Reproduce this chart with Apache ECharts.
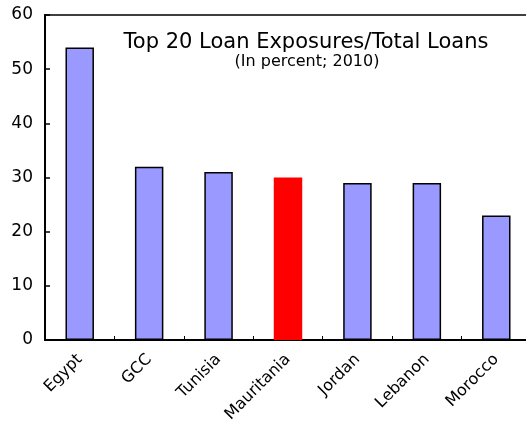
<!DOCTYPE html>
<html>
<head>
<meta charset="utf-8">
<script src="https://cdn.jsdelivr.net/npm/echarts@6/dist/echarts.min.js"></script>
<style>
  html, body { margin: 0; padding: 0; background: #fff; }
  #chart { width: 526px; height: 421px; }
</style>
</head>
<body>
<div id="chart"></div>
<script>
const categories = ['Egypt', 'GCC', 'Tunisia', 'Mauritania', 'Jordan', 'Lebanon', 'Morocco'];
const values = [54, 32, 31, 30, 29, 29, 23];
const highlighted = 'Mauritania';
const yTicks = [0, 10, 20, 30, 40, 50, 60];
const titleText = 'Top 20 Loan Exposures/Total Loans';
const subtitleText = '(In percent; 2010)';

const FONT = '"DejaVu Sans", "Liberation Sans", Arial, sans-serif';

const chart = echarts.init(document.getElementById('chart'), null, { renderer: 'canvas' });

const data = values.map((v, i) => {
  const isHi = categories[i] === highlighted;
  return {
    value: v,
    itemStyle: isHi
      ? { color: '#FF0000', borderWidth: 0 }
      : { color: '#9999FF', borderColor: '#000', borderWidth: 1.5 }
  };
});

chart.setOption({
  animation: false,
  backgroundColor: '#fff',
  graphic: [
    {
      type: 'text', x: 306, y: 32, z: 10,
      style: { text: titleText, textAlign: 'center', textVerticalAlign: 'top',
               font: '21px ' + FONT, fill: '#000' }
    },
    {
      type: 'text', x: 307, y: 54, z: 10,
      style: { text: subtitleText, textAlign: 'center', textVerticalAlign: 'top',
               font: '16px ' + FONT, fill: '#000' }
    }
  ],
  grid: {
    left: 45, top: 15, right: -5, bottom: 81,
    show: true, borderColor: '#000', borderWidth: 1.5,
    containLabel: false,
    outerBoundsMode: 'none'
  },
  xAxis: {
    type: 'category',
    data: categories,
    axisLine: { lineStyle: { color: '#000', width: 2 } },
    axisTick: { show: true, inside: true, length: 4, alignWithLabel: false, lineStyle: { color: '#000', width: 1 } },
    axisLabel: {
      rotate: 45, interval: 0, margin: 17,
      fontFamily: FONT, fontSize: 16, color: '#000'
    }
  },
  yAxis: {
    type: 'value',
    min: yTicks[0], max: yTicks[yTicks.length - 1], interval: 10,
    splitLine: { show: false },
    axisLine: { show: true, lineStyle: { color: '#000', width: 2 } },
    axisTick: { show: true, inside: true, length: 5, lineStyle: { color: '#000', width: 1.5 } },
    axisLabel: { margin: 12, padding: [4, 0, 0, 0], fontFamily: FONT, fontSize: 17, color: '#000' }
  },
  series: [{
    type: 'bar',
    data: data,
    barWidth: '41%'
  }]
});
</script>
</body>
</html>
